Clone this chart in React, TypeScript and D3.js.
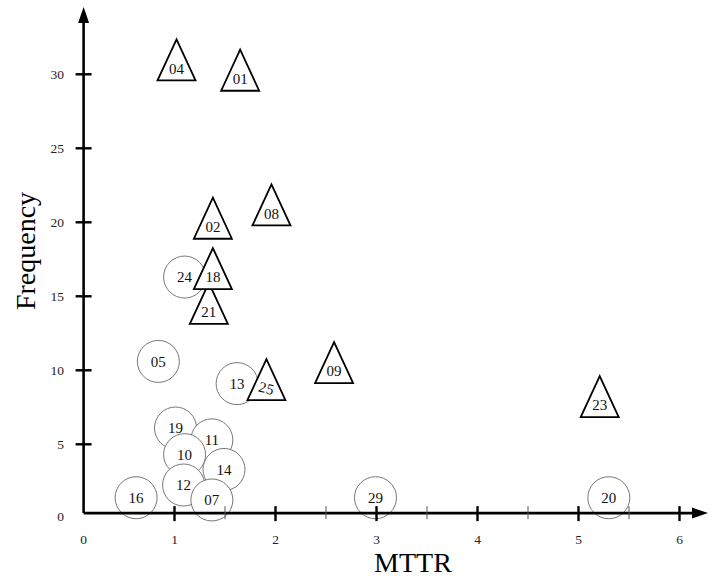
import React from 'react';
import * as d3 from 'd3';

// chart size
const svgWidth = 709;
const svgHeight = 580;

// data: machine id, MTTR, frequency, marker shape
const ids = ['04', '01', '08', '02', '18', '24', '21', '05', '13', '25', '09', '23', '19', '11', '10', '14', '12', '07', '16', '29', '20'];
const mttr = [1.02, 1.65, 1.96, 1.38, 1.38, 1.10, 1.34, 0.84, 1.62, 1.91, 2.58, 5.21, 1.01, 1.37, 1.10, 1.49, 1.09, 1.37, 0.62, 2.99, 5.30];
const freq = [30.4, 29.7, 20.6, 19.7, 16.3, 16.3, 13.95, 10.6, 9.1, 8.8, 9.95, 7.65, 6.1, 5.3, 4.3, 3.3, 2.25, 1.24, 1.39, 1.39, 1.39];
const shapes = ['tri', 'tri', 'tri', 'tri', 'tri', 'circ', 'tri', 'circ', 'circ', 'tri', 'tri', 'tri', 'circ', 'circ', 'circ', 'circ', 'circ', 'circ', 'circ', 'circ', 'circ'];

// axis ticks
const xMajor = [1, 2, 3, 4, 5, 6];
const xMinor = [1.5, 2.5, 3.5, 4.5, 5.5];
const yMajor = [5, 10, 15, 20, 25, 30];
const origin = { x: 0.1, y: 0.35 };

const xScale = d3.scaleLinear().domain([0, 6]).range([73.5, 679.5]);
const yScale = d3.scaleLinear().domain([0, 30]).range([518.3, 74.3]);

const font = '"Liberation Serif", "Times New Roman", serif';

// the "25" label is printed slightly tilted in the original
const labelTilt: Record<string, number> = { '25': 14 };

// draw circles first, triangles on top (in listed order)
const points = ids.map((id, i) => ({ id, x: mttr[i], y: freq[i], shape: shapes[i] }));
const drawOrder = [
  ...points.filter(d => d.shape === 'circ'),
  ...points.filter(d => d.shape === 'tri').reverse(),
];

const triPath = (cx: number, cy: number) =>
  `M${cx},${cy - 29}L${cx + 19},${cy + 12}L${cx - 19},${cy + 12}Z`;

export default function App() {
  const ox = xScale(origin.x);
  const oy = yScale(origin.y);
  const xEnd = 708;
  const yTop = 7;

  return (
    <svg width={svgWidth} height={svgHeight}
      style={{ position: 'absolute', left: 0, top: 0, background: '#fff' }}
      fontFamily={font}>
      {/* markers */}
      {drawOrder.map(d => {
        const cx = xScale(d.x);
        const cy = yScale(d.y);
        const tilt = labelTilt[d.id] || 0;
        return (
          <g key={d.id}>
            {d.shape === 'circ'
              ? <circle cx={cx} cy={cy} r={21} fill="#fff" stroke="#777" strokeWidth={1} />
              : <path d={triPath(cx, cy)} fill="#fff" stroke="#000" strokeWidth={1.8} strokeLinejoin="miter" />}
            <text x={cx} y={cy} dy="0.35em" textAnchor="middle" fontSize={15} fill="#111"
              transform={tilt ? `rotate(${tilt},${cx},${cy})` : undefined}>{d.id}</text>
          </g>
        );
      })}

      {/* x axis */}
      <line x1={ox} y1={oy} x2={xEnd - 12} y2={oy} stroke="#000" strokeWidth={2.6} />
      <path d={`M${xEnd},${oy}L${xEnd - 16},${oy - 5.5}L${xEnd - 16},${oy + 5.5}Z`} fill="#000" />
      {xMajor.map(v => (
        <g key={'xm' + v}>
          <line x1={xScale(v)} x2={xScale(v)} y1={oy - 7} y2={oy + 8} stroke="#000" strokeWidth={2.4} />
          <text x={xScale(v)} y={544} textAnchor="middle" fontSize={13.5} fill="#222">{v}</text>
        </g>
      ))}
      {xMinor.map(v => (
        <line key={'xn' + v} x1={xScale(v)} x2={xScale(v)} y1={oy - 7} y2={oy + 6} stroke="#555" strokeWidth={1} />
      ))}
      <text x={ox} y={544} textAnchor="middle" fontSize={13.5} fill="#222">0</text>

      {/* y axis */}
      <line x1={ox} y1={oy} x2={ox} y2={yTop + 12} stroke="#000" strokeWidth={2.6} />
      <path d={`M${ox},${yTop}L${ox - 5.5},${yTop + 16}L${ox + 5.5},${yTop + 16}Z`} fill="#000" />
      {yMajor.map(v => (
        <g key={'ym' + v}>
          <line x1={ox - 8} x2={ox + 8} y1={yScale(v)} y2={yScale(v)} stroke="#000" strokeWidth={2.4} />
          <text x={64} y={yScale(v)} dy="0.35em" textAnchor="end" fontSize={13.5} fill="#222">{v}</text>
        </g>
      ))}
      <text x={64} y={oy + 3} dy="0.35em" textAnchor="end" fontSize={13.5} fill="#222">0</text>

      {/* axis titles */}
      <text x={413} y={572} textAnchor="middle" fontSize={28} fill="#000">MTTR</text>
      <text transform={`translate(35,251) rotate(-90)`} textAnchor="middle" fontSize={28} fill="#000">Frequency</text>
    </svg>
  );
}
